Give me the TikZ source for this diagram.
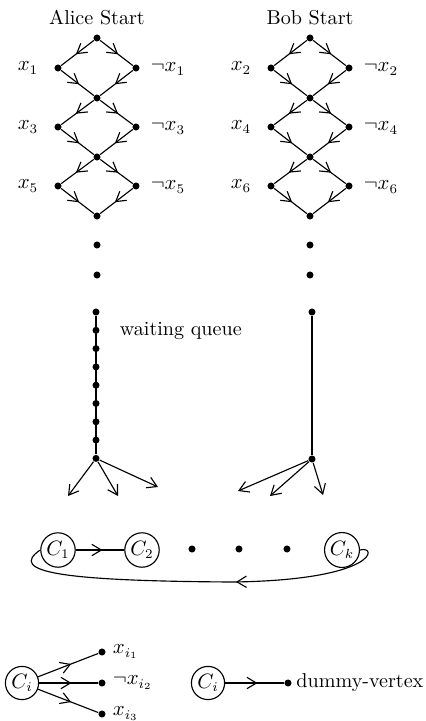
\documentclass[tikz,border=0pt]{standalone}
\usepackage{amsmath,amssymb}
\usetikzlibrary{arrows.meta,decorations.markings}
\tikzset{
  vtx/.style={circle,fill,inner sep=0pt,minimum size=3.7pt},
  clause/.style={circle,draw,inner sep=1pt,minimum size=17.5pt},
  midarrow/.style={decoration={markings,mark=at position #1 with {\arrow{Straight Barb[length=5pt,width=6pt]}}},postaction={decorate}},
  midarrow/.default=0.55,
  endarrow/.style={-{Straight Barb[length=5pt,width=6pt]}}
}
\begin{document}
\begin{tikzpicture}[x=0.527pt,y=-0.527pt,semithick,font=\fontsize{10.6}{12.7}\selectfont]
  \useasboundingbox (0,0) rectangle (425,721);

  % the two ladders of variable diamonds
  \foreach \p/\cx/\off/\title in {a/97/1/Alice Start, b/310/2/Bob Start} {
    \node (\p title) at (\cx,18) {\title};
    \node[vtx] (\p0) at (\cx,38) {};
    \foreach \k in {1,2,3} {
      \pgfmathtruncatemacro\prev{\k-1}
      \pgfmathtruncatemacro\idx{2*\k-2+\off}
      \pgfmathsetmacro\ys{68+59*(\k-1)}
      \node[vtx] (\p\k l) at (\cx-39,\ys) {};
      \node[vtx] (\p\k r) at (\cx+39,\ys) {};
      \node[vtx] (\p\k) at (\cx,\ys+30) {};
      \node (\p\k lx) at (\cx-69,\ys) {$x_{\idx}$};
      \node (\p\k rx) at (\cx+71,\ys+1) {$\neg x_{\idx}$};
      \draw[midarrow] (\p\prev) -- (\p\k l);
      \draw[midarrow] (\p\prev) -- (\p\k r);
      \draw[midarrow] (\p\k l) -- (\p\k);
      \draw[midarrow] (\p\k r) -- (\p\k);
    }
    \node[vtx] (\p d1) at (\cx,245) {};
    \node[vtx] (\p d2) at (\cx,275) {};
  }

  % waiting queue on Alice's side
  \foreach \i in {0,...,8}
    \node[vtx] (q\i) at (96,312+18.3*\i) {};
  \draw (q0) -- (q8);
  \node[anchor=west] (qlabel) at (113,331) {waiting queue};
  \coordinate (qa1) at (68,496);
  \coordinate (qa2) at (118,496);
  \coordinate (qa3) at (158,487);
  \foreach \t in {qa1,qa2,qa3}
    \draw[endarrow] (q8) -- (\t);

  % Bob's side
  \node[vtx] (bq0) at (312,312) {};
  \node[vtx] (bq1) at (312,459) {};
  \draw (bq0) -- (bq1);
  \coordinate (ba1) at (238,491);
  \coordinate (ba2) at (270,496);
  \coordinate (ba3) at (323,495);
  \foreach \t in {ba1,ba2,ba3}
    \draw[endarrow] (bq1) -- (\t);

  % clause cycle
  \node[clause] (c1) at (58,550) {$C_1$};
  \node[clause] (c2) at (142,550) {$C_2$};
  \node[vtx] (cd1) at (192,549) {};
  \node[vtx] (cd2) at (239,549) {};
  \node[vtx] (cd3) at (287,549) {};
  \node[clause] (ck) at (342,550) {$C_k$};
  \draw[midarrow] (c1) -- (c2);
  \draw[midarrow=0.4] (ck.east) .. controls (378,545) and (378,580) .. (233,582)
    .. controls (60,581) and (8,572) .. (c1.west);

  % clause gadget
  \node[clause] (ci) at (22,683) {$C_i$};
  \node[vtx] (v1) at (102,652) {};
  \node[vtx] (v2) at (102,683) {};
  \node[vtx] (v3) at (102,714) {};
  \node[anchor=west] (v1x) at (v1.east) {$x_{i_1}$};
  \node[anchor=west] (v2x) at (v2.east) {$\neg x_{i_2}$};
  \node[anchor=west] (v3x) at (v3.east) {$x_{i_3}$};
  \foreach \t in {v1,v2,v3}
    \draw[midarrow] (ci) -- (\t);

  % dummy gadget
  \node[clause] (cj) at (208,683) {$C_i$};
  \node[vtx] (dv) at (288,683) {};
  \node[anchor=west,inner sep=2pt] (dvx) at (dv.east) {dummy-vertex};
  \draw[midarrow] (cj) -- (dv);
\end{tikzpicture}
\end{document}
